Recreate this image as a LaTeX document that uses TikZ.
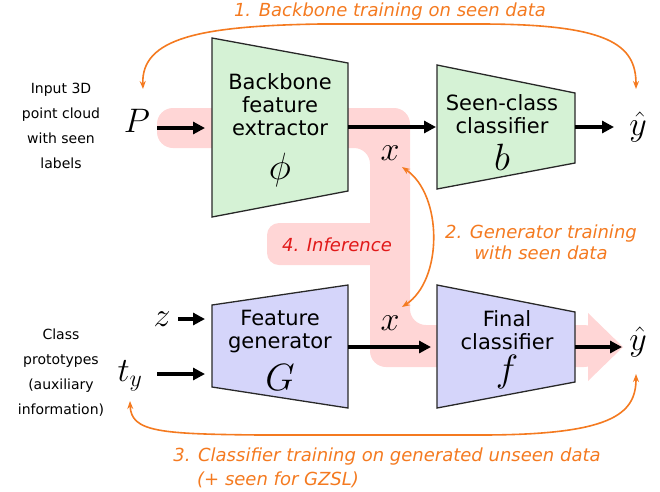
\RequirePackage{fix-cm}
\documentclass[tikz,border=0pt]{standalone}
\usepackage{fontspec}
\setmainfont{DejaVu Sans}
\usetikzlibrary{arrows.meta}
\definecolor{gfill}{RGB}{213,242,213}
\definecolor{bfill}{RGB}{213,213,250}
\definecolor{pfill}{RGB}{255,214,214}
\definecolor{orng}{RGB}{244,122,32}
\definecolor{infred}{RGB}{225,25,25}
\definecolor{edgec}{RGB}{40,40,40}
\begin{document}
\begin{tikzpicture}[x=1pt,y=-1pt,
  trap/.style={draw=edgec, line width=1.3pt, line join=miter},
  bigarrow/.style={line width=3.2pt, -{Triangle[length=12pt,width=12pt]}},
  oarrow/.style={draw=orng, line width=1.6pt, {Stealth[length=8pt,width=6pt]}-{Stealth[length=8pt,width=6pt]}},
  boxtxt/.style={align=center, font=\fontsize{21}{23}\selectfont, inner sep=0pt},
  mbig/.style={font=\fontsize{34}{34}\selectfont, inner sep=0pt},
  mbox/.style={font=\fontsize{38}{38}\selectfont, inner sep=0pt},
  sidetxt/.style={align=center, font=\fontsize{14}{25}\selectfont, inner sep=0pt},
  olabel/.style={text=orng, align=center, font=\fontsize{18}{21}\selectfont\itshape, inner sep=0pt}]
\useasboundingbox (0,0) rectangle (660,491);

% pink inference path
\fill[pfill, rounded corners=16pt] (157,108) -- (410,108) -- (410,325) -- (600,325) -- (600,367) -- (370,367) -- (370,148) -- (157,148) -- cycle;
\fill[pfill, rounded corners=12pt] (267,223) rectangle (392,265);
\fill[pfill] (588,313) -- (623,347) -- (588,381) -- cycle;

% trapezoids
\filldraw[trap, fill=gfill] (212,38) -- (348,63) -- (348,191) -- (212,217) -- cycle;
\filldraw[trap, fill=gfill] (437,65) -- (575,93) -- (575,163) -- (437,189) -- cycle;
\filldraw[trap, fill=bfill] (212,305) -- (348,285) -- (348,408) -- (212,387) -- cycle;
\filldraw[trap, fill=bfill] (437,285) -- (575,312) -- (575,382) -- (437,408) -- cycle;

% box texts
\node[boxtxt] (bbt) at (280,105) {Backbone\\feature\\extractor};
\node[mbox] (phi) at (280,170) {$\phi$};
\node[boxtxt] (sct) at (502,114) {Seen-class\\classifier};
\node[mbox] (b) at (502,157) {$b$};
\node[boxtxt] (fgt) at (280,332) {Feature\\generator};
\node[mbox] (G) at (280,378) {$G$};
\node[boxtxt] (fct) at (507,330) {Final\\classifier};
\node[mbox] (f) at (507,372) {$f$};

% variables
\node[mbig] (P) at (137,121) {$P$};
\node[mbig] (z) at (162,319) {$z$};
\node[mbig] (ty) at (130,376) {$t_y$};
\node[mbig] (xu) at (390,153) {$x$};
\node[mbig] (xl) at (390,323) {$x$};
\node[mbig] (yu) at (638,127) {$\hat{y}$};
\node[mbig] (yl) at (638,342) {$\hat{y}$};

% side texts
\node[sidetxt] (inp) at (61,126) {Input 3D\\point cloud\\with seen\\labels};
\node[sidetxt] (cls) at (61,373) {Class\\prototypes\\(auxiliary\\information)};

% black arrows
\coordinate (a1s) at (157,128); \coordinate (a1e) at (205,128);
\coordinate (a2s) at (348,127); \coordinate (a2e) at (436,127);
\coordinate (a3s) at (575,127); \coordinate (a3e) at (614,127);
\coordinate (a4s) at (178,319); \coordinate (a4e) at (205,319);
\coordinate (a5s) at (157,374); \coordinate (a5e) at (205,374);
\coordinate (a6s) at (348,347); \coordinate (a6e) at (431,347);
\coordinate (a7s) at (575,347); \coordinate (a7e) at (622,347);
\draw[bigarrow] (a1s) -- (a1e);
\draw[bigarrow] (a2s) -- (a2e);
\draw[bigarrow] (a3s) -- (a3e);
\draw[bigarrow] (a4s) -- (a4e);
\draw[bigarrow] (a5s) -- (a5e);
\draw[bigarrow] (a6s) -- (a6e);
\draw[bigarrow] (a7s) -- (a7e);

% orange curves
\coordinate (o1a) at (143,89); \coordinate (o1b) at (636,89);
\coordinate (o2a) at (402,167); \coordinate (o2b) at (402,307);
\coordinate (o3a) at (636,374); \coordinate (o3b) at (130,401);
\draw[oarrow] (o1a) .. controls (141,38) and (200,26) .. (320,24) -- (480,24) .. controls (610,24) and (636,45) .. (o1b);
\draw[oarrow] (o2a) .. controls (443,195) and (443,280) .. (o2b);
\draw[oarrow] (o3a) .. controls (636,415) and (610,435) .. (480,435) -- (260,435) .. controls (160,434) and (131,432) .. (o3b);

% labels
\node[olabel] (l1) at (390,12) {1. Backbone training on seen data};
\node[olabel] (l2) at (541,242) {2. Generator training\\with seen data};
\node[olabel] (l3a) at (387,457) {3. Classifier training on generated unseen data};
\node[olabel, anchor=west] (l3b) at (197,480) {(+ seen for GZSL)};
\node[text=infred, font=\fontsize{18}{21}\selectfont\itshape, inner sep=0pt] (inf) at (337,245) {4. Inference};
\end{tikzpicture}
\end{document}
